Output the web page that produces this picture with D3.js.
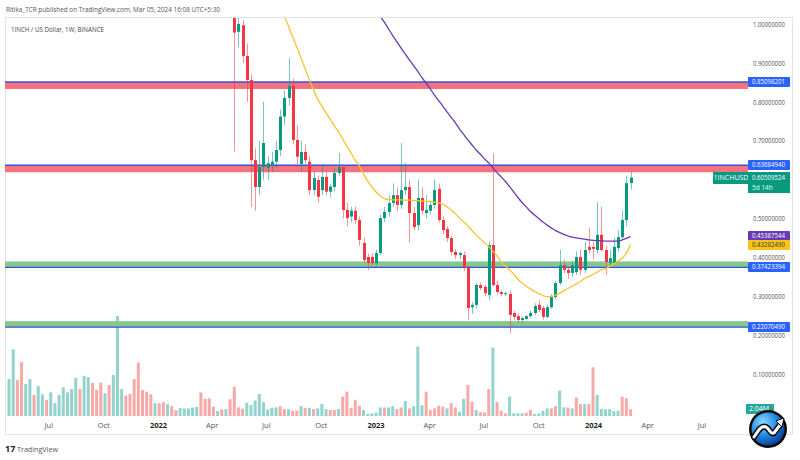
<!DOCTYPE html>
<html><head><meta charset="utf-8">
<script src="https://cdn.jsdelivr.net/npm/d3@7"></script>
<style>body{margin:0;background:#fff}svg{display:block}text{font-family:"Open Sans","Noto Sans",sans-serif}</style>
</head><body><svg id="c" width="800" height="460"></svg>
<script>
// ---------- DATA ----------
const candleStart = "2022-05-09"; // weekly candles (1W)
const open  = [1.040,0.980,0.997,0.918,0.856,0.650,0.581,0.632,0.630,0.638,0.646,0.676,0.762,0.810,0.841,0.702,0.640,0.671,0.646,0.573,0.599,0.573,0.607,0.569,0.581,0.617,0.632,0.522,0.505,0.520,0.496,0.437,0.401,0.401,0.385,0.411,0.501,0.517,0.540,0.560,0.535,0.573,0.581,0.514,0.483,0.553,0.514,0.520,0.535,0.576,0.496,0.473,0.450,0.414,0.406,0.406,0.373,0.272,0.278,0.329,0.324,0.303,0.432,0.329,0.311,0.306,0.306,0.257,0.249,0.239,0.242,0.249,0.257,0.278,0.270,0.247,0.272,0.298,0.334,0.380,0.368,0.360,0.362,0.401,0.368,0.427,0.427,0.419,0.458,0.419,0.386,0.386,0.424,0.452,0.496,0.591];
const high  = [1.100,1.030,1.010,0.950,0.870,0.680,0.700,0.800,0.660,0.670,0.700,0.780,0.830,0.913,0.860,0.740,0.700,0.690,0.660,0.620,0.610,0.640,0.620,0.590,0.630,0.668,0.640,0.540,0.530,0.530,0.505,0.450,0.410,0.410,0.420,0.510,0.530,0.560,0.590,0.580,0.694,0.643,0.600,0.530,0.600,0.580,0.560,0.545,0.600,0.590,0.505,0.480,0.455,0.420,0.415,0.415,0.380,0.285,0.335,0.335,0.330,0.440,0.668,0.340,0.315,0.312,0.315,0.262,0.255,0.248,0.252,0.262,0.282,0.290,0.275,0.278,0.305,0.340,0.420,0.395,0.375,0.390,0.415,0.420,0.440,0.475,0.440,0.542,0.530,0.430,0.420,0.450,0.470,0.520,0.610,0.620];
const low   = [0.672,0.940,0.900,0.800,0.530,0.520,0.560,0.600,0.600,0.620,0.630,0.660,0.740,0.790,0.690,0.640,0.620,0.640,0.560,0.560,0.540,0.560,0.560,0.555,0.570,0.610,0.500,0.480,0.490,0.485,0.430,0.385,0.368,0.380,0.378,0.405,0.490,0.505,0.530,0.520,0.525,0.560,0.437,0.470,0.470,0.510,0.500,0.510,0.525,0.490,0.460,0.440,0.405,0.395,0.395,0.365,0.240,0.255,0.268,0.315,0.300,0.290,0.325,0.305,0.300,0.300,0.206,0.240,0.232,0.232,0.238,0.245,0.252,0.260,0.240,0.243,0.268,0.293,0.330,0.360,0.345,0.350,0.355,0.355,0.360,0.410,0.395,0.410,0.415,0.355,0.375,0.380,0.415,0.445,0.480,0.575];
const close = [0.978,1.000,0.918,0.856,0.650,0.581,0.632,0.694,0.642,0.646,0.676,0.762,0.810,0.841,0.702,0.659,0.671,0.650,0.573,0.604,0.556,0.607,0.569,0.582,0.617,0.632,0.522,0.501,0.520,0.496,0.445,0.393,0.386,0.385,0.411,0.501,0.517,0.540,0.560,0.535,0.573,0.581,0.514,0.478,0.553,0.520,0.522,0.535,0.573,0.496,0.470,0.450,0.414,0.406,0.411,0.373,0.270,0.278,0.329,0.321,0.308,0.432,0.329,0.311,0.306,0.308,0.252,0.247,0.239,0.244,0.249,0.257,0.275,0.265,0.247,0.272,0.298,0.334,0.380,0.368,0.360,0.380,0.401,0.368,0.419,0.419,0.422,0.458,0.419,0.388,0.398,0.427,0.452,0.496,0.591,0.605];

// volume (millions), weekly from 2021-04-26
const volumeStart = "2021-04-26";
const volume = [11.2,20.3,10.9,16.4,9.7,11.2,6.4,9.1,6.6,4.9,7.2,3.9,6.4,8.7,7.2,8.2,11.6,8.2,12.2,11.8,10.1,7.9,10.1,6.9,9.4,12.5,30.4,8.2,6.2,6.7,11.2,16.3,7.9,7.4,6.6,3.9,3.9,4.2,3.6,3.0,1.8,2.4,2.3,2.3,2.6,2.8,7.2,5.2,5.4,2.8,1.5,2.0,2.1,5.1,
  8.9,2.6,2.2,4.0,3.3,4.7,6.7,4.2,2.0,2.5,2.6,3.0,2.1,2.0,1.6,1.6,3.0,2.5,2.5,2.1,2.3,3.6,2.1,1.8,1.8,2.1,5.9,7.4,2.5,4.9,3.1,1.8,0.6,0.8,1.0,2.6,2.6,2.6,3.0,2.1,2.6,4.6,2.3,3.0,21.1,3.3,7.4,1.8,2.3,3.1,2.8,2.3,3.9,2.6,1.3,5.2,9.4,4.3,1.8,1.1,1.1,8.2,20.8,4.2,1.6,0.8,5.9,0.8,0.8,0.8,1.0,1.8,0.6,0.8,1.6,2.3,2.3,3.0,7.7,2.6,2.6,2.3,5.6,3.6,3.6,3.6,14.8,6.4,2.1,2.0,2.1,1.5,1.6,5.9,5.4,2.04];
// direction of volume bars before the visible candles (u = up, d = down)
const volumeDirEarly = "uudduuduuduuuuuuuduudddudu uuddddddduddudduuuuuddddu".replace(/ /g,"").split("");

// moving averages, aligned to candle index
const maYellowStart = 11;
const maYellow = [1.05,1.02,0.995,0.967,0.941,0.913,0.884,0.856,0.830,0.807,0.789,0.771,0.756,0.738,0.723,0.704,0.686,0.668,0.650,0.635,0.614,0.596,0.581,0.568,0.558,0.551,0.549,0.548,0.548,0.548,0.547,0.547,0.546,0.546,0.545,0.544,0.544,0.542,0.540,0.537,0.530,0.522,0.512,0.501,0.491,0.481,0.469,0.458,0.447,0.438,0.428,0.416,0.404,0.388,0.378,0.368,0.357,0.344,0.334,0.326,0.319,0.312,0.307,0.302,0.299,0.299,0.303,0.308,0.314,0.320,0.326,0.332,0.338,0.346,0.351,0.356,0.362,0.368,0.371,0.377,0.383,0.391,0.398,0.411,0.433];
const maPurpleStart = 35;
const maPurple = [1.02,1.004,0.987,0.970,0.954,0.938,0.923,0.907,0.893,0.878,0.862,0.848,0.833,0.817,0.803,0.789,0.774,0.760,0.746,0.730,0.716,0.702,0.689,0.676,0.665,0.653,0.643,0.630,0.618,0.607,0.595,0.582,0.568,0.554,0.541,0.530,0.518,0.509,0.500,0.491,0.483,0.476,0.469,0.464,0.459,0.455,0.452,0.450,0.448,0.447,0.445,0.444,0.443,0.443,0.442,0.442,0.442,0.442,0.445,0.449,0.454];

// horizontal levels
const levels = [0.85098201, 0.63684940, 0.37423394, 0.22070490];
const levelZone = ["resistance","resistance","support","support"];

// axes (0.6 is hidden behind the last-price tag on the reference)
const yTicks = [1.0,0.9,0.8,0.7,0.5,0.4,0.3,0.2,0.1];
const xTickDates = ["2021-07-01","2021-10-01","2022-01-01","2022-04-01","2022-07-01","2022-10-01","2023-01-01","2023-04-01","2023-07-01","2023-10-01","2024-01-01","2024-04-01","2024-07-01"];
const xTickLabels = ["Jul","Oct","2022","Apr","Jul","Oct","2023","Apr","Jul","Oct","2024","Apr","Jul"];

const lastPrice = 0.60509524, maPurpleLast = 0.45387544, maYellowLast = 0.43282490;

// ---------- DRAW ----------
const svg = d3.select("#c");
const W = 800, H = 460;
const up = "#089981", down = "#f23645";
const day = 864e5;
const cDates = close.map((_, i) => new Date(+new Date(candleStart) + i * 7 * day));
const vDates = volume.map((_, i) => new Date(+new Date(volumeStart) + i * 7 * day));

const x = d3.scaleUtc().domain([new Date("2022-01-01"), new Date("2024-01-01")]).range([158, 593]);
const y = d3.scaleLinear().domain([0, 1]).range([413, 24]);
const yv = d3.scaleLinear().domain([0, 30.4]).range([416, 316]);

svg.append("rect").attr("width", W).attr("height", H).attr("fill", "#fff");
const defs = svg.append("defs");
defs.append("clipPath").attr("id", "pc").append("rect").attr("x", 5).attr("y", 18).attr("width", 743).attr("height", 398);
const rg = defs.append("radialGradient").attr("id", "lgr").attr("cx", "35%").attr("cy", "30%").attr("r", "75%");
rg.append("stop").attr("offset", "0%").attr("stop-color", "#8fd8ff");
rg.append("stop").attr("offset", "55%").attr("stop-color", "#1e88e5");
rg.append("stop").attr("offset", "100%").attr("stop-color", "#0b3d91");

// frame
svg.append("rect").attr("x", 5.5).attr("y", 17.5).attr("width", 787).attr("height", 417)
  .attr("fill", "none").attr("stroke", "#e3e3e3");

const g = svg.append("g").attr("clip-path", "url(#pc)");

// volume
const nEarly = volumeDirEarly.length;
g.append("g").selectAll("rect").data(volume).join("rect")
  .attr("x", (d, i) => x(vDates[i]) - 1.5).attr("width", 3)
  .attr("y", d => yv(d)).attr("height", d => 416 - yv(d))
  .attr("fill", (d, i) => {
    let isUp;
    if (i < nEarly) isUp = volumeDirEarly[i] === "u";
    else { const k = i - nEarly; isUp = close[k] >= open[k]; }
    return isUp ? "#92d3cc" : "#f7a9a7";
  });

// level zones
levels.forEach((v, i) => {
  const yy = y(v);
  if (levelZone[i] === "resistance") {
    g.append("rect").attr("x", 5).attr("width", 743).attr("y", yy).attr("height", 7).attr("fill", "#f2727e");
  } else {
    g.append("rect").attr("x", 5).attr("width", 743).attr("y", yy - 6).attr("height", 6).attr("fill", "#84c98a");
  }
  g.append("line").attr("x1", 5).attr("x2", 748).attr("y1", yy).attr("y2", yy)
    .attr("stroke", "#3d4fe0").attr("stroke-width", 1.4);
});

// candles
const cg = g.append("g");
cg.selectAll("line").data(close).join("line")
  .attr("x1", (d, i) => Math.round(x(cDates[i])) + 0.5).attr("x2", (d, i) => Math.round(x(cDates[i])) + 0.5)
  .attr("y1", (d, i) => y(high[i])).attr("y2", (d, i) => y(low[i]))
  .attr("stroke", (d, i) => d >= open[i] ? up : down).attr("stroke-opacity", 0.55).attr("stroke-width", 1);
cg.selectAll("rect").data(close).join("rect")
  .attr("x", (d, i) => Math.round(x(cDates[i])) - 1).attr("width", 3)
  .attr("y", (d, i) => y(Math.max(d, open[i])))
  .attr("height", (d, i) => Math.max(1, Math.abs(y(d) - y(open[i]))))
  .attr("fill", (d, i) => d >= open[i] ? up : down);

// moving averages
const lineGen = start => d3.line().curve(d3.curveMonotoneX)
  .x((d, i) => x(cDates[start + i])).y(d => y(d));
g.append("path").attr("d", lineGen(maYellowStart)(maYellow)).attr("fill", "none")
  .attr("stroke", "#f7c531").attr("stroke-width", 1.3);
g.append("path").attr("d", lineGen(maPurpleStart)(maPurple)).attr("fill", "none")
  .attr("stroke", "#6a3ab2").attr("stroke-width", 1.3);

// right axis
const ya = svg.append("g").attr("transform", "translate(749,0)")
  .call(d3.axisRight(y).tickValues(yTicks).tickSize(0).tickPadding(4).tickFormat(d => d.toFixed(8)));
ya.select(".domain").remove();
ya.selectAll("text").attr("font-size", 7).attr("fill", "#555").attr("textLength", 32).attr("lengthAdjust", "spacingAndGlyphs");

// bottom axis
const xa = svg.append("g").attr("transform", "translate(0,421)")
  .call(d3.axisBottom(x).tickValues(xTickDates.map(d => new Date(d))).tickSize(0).tickPadding(2)
    .tickFormat((d, i) => xTickLabels[i]));
xa.select(".domain").remove();
xa.selectAll("text").attr("font-size", 7.5).attr("fill", (d, i) => /^\d{4}$/.test(xTickLabels[i]) ? "#222" : "#555")
  .attr("font-weight", (d, i) => /^\d{4}$/.test(xTickLabels[i]) ? "bold" : "normal");

// price tags
function tag(v, fill, tc, txt) {
  const yy = Math.round(y(v));
  svg.append("rect").attr("x", 748).attr("y", yy - 5).attr("width", 42).attr("height", 10).attr("rx", 1).attr("fill", fill);
  svg.append("text").attr("x", 752).attr("y", yy).attr("dy", "0.34em").attr("font-size", 7).attr("fill", tc)
    .attr("textLength", 33).attr("lengthAdjust", "spacingAndGlyphs").text(txt);
}
levels.slice(0, 2).forEach(v => tag(v, "#2962ff", "#fff", v.toFixed(8)));
tag(maPurpleLast, "#673ab7", "#fff", maPurpleLast.toFixed(8));
tag(maYellowLast, "#f9c51b", "#333", maYellowLast.toFixed(8));
levels.slice(2).forEach(v => tag(v, "#2962ff", "#fff", v.toFixed(8)));

// last price tag
{
  const yy = Math.round(y(lastPrice));
  svg.append("rect").attr("x", 713).attr("y", yy - 6).attr("width", 36).attr("height", 12).attr("fill", up);
  svg.append("text").attr("x", 731).attr("y", yy).attr("dy", "0.34em").attr("text-anchor", "middle")
    .attr("font-size", 7).attr("fill", "#fff").text("1INCHUSD");
  svg.append("rect").attr("x", 748).attr("y", yy - 6).attr("width", 42).attr("height", 21).attr("fill", up);
  svg.append("text").attr("x", 752).attr("y", yy).attr("dy", "0.34em").attr("font-size", 7).attr("fill", "#fff")
    .attr("textLength", 33).attr("lengthAdjust", "spacingAndGlyphs").text(lastPrice.toFixed(8));
  svg.append("text").attr("x", 752).attr("y", yy + 10).attr("dy", "0.34em").attr("font-size", 6.5).attr("fill", "#e6fff8").text("5d 14h");
}
// volume tag
{
  const yy = Math.round(yv(volume[volume.length - 1]));
  svg.append("rect").attr("x", 746).attr("y", yy - 5).attr("width", 28).attr("height", 10).attr("fill", "#26a69a");
  svg.append("text").attr("x", 749).attr("y", yy).attr("dy", "0.34em").attr("font-size", 7).attr("fill", "#fff")
    .text(volume[volume.length - 1].toFixed(2) + "M");
}

// header
svg.append("text").attr("x", 6).attr("y", 12).attr("font-size", 7.2).attr("fill", "#555")
  .attr("textLength", 214).attr("lengthAdjust", "spacingAndGlyphs")
  .text("Ritika_TCR published on TradingView.com, Mar 05, 2024 16:08 UTC+5:30");
svg.append("text").attr("x", 11).attr("y", 32).attr("font-size", 7.2).attr("fill", "#444")
  .attr("textLength", 93).attr("lengthAdjust", "spacingAndGlyphs")
  .text("1INCH / US Dollar, 1W, BINANCE");

// footer TradingView
svg.append("text").attr("x", 5).attr("y", 452).attr("font-size", 9).attr("font-weight", "bold").attr("fill", "#222").text("17");
svg.append("text").attr("x", 17).attr("y", 451.5).attr("font-size", 7.5).attr("fill", "#555")
  .attr("textLength", 41).attr("lengthAdjust", "spacingAndGlyphs").text("TradingView");

// corner logo
const lg = svg.append("g").attr("transform", "translate(768,429)");
lg.append("circle").attr("r", 19).attr("fill", "#0a0a0a");
lg.append("circle").attr("r", 16.5).attr("fill", "url(#lgr)");
const zz = "M-14,8 C-10,2 -7,-4 -2,-2 C2,0 2,6 6,4 L12,-4";
lg.append("path").attr("d", zz).attr("fill", "none").attr("stroke", "#0a0a0a").attr("stroke-width", 6).attr("stroke-linecap", "round");
lg.append("path").attr("d", zz).attr("fill", "none").attr("stroke", "#fff").attr("stroke-width", 3).attr("stroke-linecap", "round");
lg.append("path").attr("d", "M8,-8 L16,-11 L14,-2 Z").attr("fill", "#fff").attr("stroke", "#0a0a0a").attr("stroke-width", 1);
</script></body></html>
